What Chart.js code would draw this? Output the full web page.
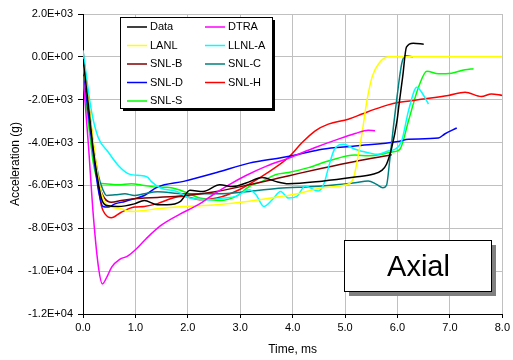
<!DOCTYPE html>
<html>
<head>
<meta charset="utf-8">
<script src="https://cdn.jsdelivr.net/npm/chart.js@4"></script>
<style>
  html, body { margin: 0; padding: 0; background: #fff; }
  #wrap { width: 513px; height: 360px; }
</style>
</head>
<body>
<div id="wrap"><canvas id="accelChart" width="513" height="360"></canvas></div>
<script>
// Axial acceleration vs time, one pair of arrays per series (time in ms, accel in g)
const seriesNames = ['Data', 'DTRA', 'LANL', 'LLNL-A', 'SNL-B', 'SNL-C', 'SNL-D', 'SNL-H', 'SNL-S'];
const seriesColors = ['#000000', '#ff00ff', '#ffff00', '#00ffff', '#800000', '#008080', '#0000ff', '#ff0000', '#00ff00'];

const dataT = [0, 0.1, 0.2, 0.26, 0.35, 0.45, 0.67, 0.98, 1.17, 1.42, 1.6, 1.86, 2.04, 2.29, 2.61, 2.86, 3.11, 3.42, 3.67, 3.92, 4.56, 5.19, 5.51, 5.7, 5.79, 5.89, 5.99, 6.03, 6.1, 6.17, 6.3, 6.5];
const dataG = [-100, -2200, -4400, -5400, -6600, -6940, -6980, -6860, -6700, -6900, -6900, -6740, -6230, -6280, -5970, -6050, -5890, -5630, -5810, -5920, -5800, -5610, -5490, -5300, -5010, -4230, -2990, -2200, -900, 450, 630, 590];

const dtraT = [0, 0.1, 0.2, 0.3, 0.37, 0.45, 0.55, 0.7, 0.85, 1.0, 1.2, 1.48, 1.85, 2.2, 2.5, 2.8, 3.1, 3.5, 3.92, 4.43, 4.87, 5.19, 5.44, 5.57];
const dtraG = [-900, -4000, -7500, -9900, -10600, -10300, -9800, -9450, -9300, -9000, -8500, -7880, -7340, -6900, -6400, -5950, -5550, -5100, -4730, -4230, -3840, -3580, -3420, -3450];

const lanlT = [0, 0.1, 0.2, 0.3, 0.4, 0.48, 0.73, 0.92, 1.17, 1.42, 1.92, 2.55, 3.17, 3.8, 4.11, 4.56, 5.0, 5.15, 5.25, 5.32, 5.42, 5.52, 5.64, 5.83, 6.2, 8.0];
const lanlG = [-300, -2000, -4000, -5800, -6700, -6940, -7090, -7220, -7170, -7090, -6980, -6900, -6740, -6510, -6380, -6110, -5980, -5720, -4600, -3610, -2000, -900, -320, 0, 0, 0];

const llnlT = [0, 0.16, 0.29, 0.48, 0.67, 0.86, 1.04, 1.23, 1.3, 1.48, 1.79, 2.04, 2.42, 2.67, 2.92, 3.17, 3.3, 3.45, 3.61, 3.77, 3.92, 4.08, 4.24, 4.49, 4.6, 4.69, 4.8, 4.97, 5.19, 5.44, 5.63, 5.82, 5.96, 6.08, 6.21, 6.37, 6.46, 6.59];
const llnlG = [300, -2510, -3760, -4440, -5060, -5450, -5530, -5610, -5810, -6120, -6280, -6590, -6670, -6590, -6510, -6200, -6430, -6980, -6670, -6280, -6590, -6510, -6030, -6260, -5900, -5100, -4300, -4080, -4310, -4470, -4550, -4390, -4300, -3920, -2510, -1420, -1650, -2200];

const snlBT = [0, 0.1, 0.2, 0.3, 0.42, 0.54, 0.73, 0.98, 1.17, 1.42, 1.92, 2.55, 3.17, 3.8, 4.1, 4.56, 5.19, 5.89];
const snlBG = [100, -2000, -4200, -5900, -6620, -6780, -6700, -6620, -6590, -6560, -6480, -6280, -5970, -5620, -5450, -5200, -4880, -4570];

const snlCT = [0, 0.1, 0.2, 0.3, 0.38, 0.45, 0.61, 0.8, 0.98, 1.17, 1.42, 1.92, 2.55, 3.17, 3.8, 4.11, 4.56, 5.19, 5.44, 5.6, 5.72, 5.79, 5.85, 5.92, 5.99, 6.08, 6.15, 6.3];
const snlCG = [-300, -2200, -4200, -5600, -6200, -6470, -6440, -6390, -6470, -6390, -6300, -6390, -6390, -6280, -6120, -6090, -6030, -5870, -5790, -5950, -6110, -6000, -4860, -3300, -1880, -320, 50, 0];

const snlDT = [0, 0.1, 0.2, 0.3, 0.38, 0.48, 0.61, 0.8, 0.98, 1.17, 1.42, 1.92, 2.55, 3.17, 3.8, 4.1, 4.56, 5.19, 6.01, 6.21, 6.78, 6.9, 7.13];
const snlDG = [-500, -2600, -4600, -6300, -6980, -7010, -6860, -6750, -6620, -6470, -6080, -5810, -5400, -4960, -4700, -4560, -4310, -4160, -3950, -3840, -3790, -3600, -3320];

const snlHT = [0, 0.1, 0.2, 0.3, 0.35, 0.42, 0.54, 0.73, 0.98, 1.17, 1.42, 1.7, 1.92, 2.23, 2.55, 2.98, 3.36, 3.74, 3.92, 4.18, 4.43, 4.68, 5.06, 5.32, 5.57, 5.82, 6.01, 6.53, 6.97, 7.29, 7.6, 7.79, 8.0];
const snlHG = [300, -2000, -4300, -6200, -6940, -7330, -7510, -7250, -7010, -6980, -6850, -6600, -6510, -6670, -6590, -6200, -5660, -5040, -4700, -4000, -3450, -3140, -2910, -2670, -2440, -2240, -2130, -1960, -1800, -1650, -1850, -1730, -1800];

const snlST = [0, 0.1, 0.2, 0.32, 0.42, 0.67, 0.92, 1.17, 1.42, 1.6, 1.92, 2.23, 2.61, 2.92, 3.17, 3.42, 3.67, 3.92, 4.3, 4.68, 5.19, 5.44, 5.7, 5.82, 5.95, 6.05, 6.21, 6.4, 6.56, 6.78, 7.03, 7.29, 7.45];
const snlSG = [-950, -3000, -5000, -5880, -5920, -5970, -5920, -6000, -6080, -6080, -6280, -6590, -6700, -6510, -6050, -5810, -5500, -5400, -5170, -4860, -4580, -4620, -4550, -4470, -4420, -4300, -2980, -1420, -670, -790, -760, -600, -550];

const seriesT = [dataT, dtraT, lanlT, llnlT, snlBT, snlCT, snlDT, snlHT, snlST];
const seriesG = [dataG, dtraG, lanlG, llnlG, snlBG, snlCG, snlDG, snlHG, snlSG];

const yTicks = [2000, 0, -2000, -4000, -6000, -8000, -10000, -12000];
const xTicks = [0, 1, 2, 3, 4, 5, 6, 7, 8];
const panelLabel = 'Axial';

function sciLabel(v) {
  // 2.0E+03 style, exponent padded to two digits
  const parts = Number(v).toExponential(1).split('e');
  const sign = parts[1][0] === '-' ? '-' : '+';
  const exp = parts[1].replace(/[+-]/, '').padStart(2, '0');
  return parts[0] + 'E' + sign + exp;
}

const datasets = seriesNames.map(function(name, i) {
  return {
    label: name,
    data: seriesT[i].map((t, j) => ({ x: t, y: seriesG[i][j] })),
    borderColor: seriesColors[i],
    backgroundColor: seriesColors[i],
    borderWidth: 1.5,
    pointRadius: 0,
    showLine: true,
    fill: false,
    cubicInterpolationMode: 'monotone'
  };
});

// legend box with shadow drawn inside the plot, plus the "Axial" label box
const boxesPlugin = {
  id: 'boxes',
  afterDraw(chart) {
    const ctx = chart.ctx;
    ctx.save();
    // legend
    const lx = 120, ly = 17, lw = 152, lh = 91;
    ctx.fillStyle = '#000';
    ctx.fillRect(lx + 3, ly + 3, lw, lh);
    ctx.fillStyle = '#fff';
    ctx.fillRect(lx, ly, lw, lh);
    ctx.strokeStyle = '#000';
    ctx.lineWidth = 1;
    ctx.strokeRect(lx + 0.5, ly + 0.5, lw, lh);
    ctx.font = '11px "Liberation Sans", Arial, sans-serif';
    ctx.textBaseline = 'middle';
    chart.data.datasets.forEach(function(ds, i) {
      const cx = i % 2 === 0 ? 127 : 205;
      const cy = 27 + Math.floor(i / 2) * 18.5;
      ctx.strokeStyle = ds.borderColor;
      ctx.lineWidth = 1.5;
      ctx.beginPath();
      ctx.moveTo(cx, cy);
      ctx.lineTo(cx + 20, cy);
      ctx.stroke();
      ctx.fillStyle = '#000';
      ctx.fillText(ds.label, cx + 23, cy);
    });
    // Axial box
    const ax = 344, ay = 240, aw = 147, ah = 51;
    ctx.fillStyle = '#808080';
    ctx.fillRect(ax + 5, ay + 5, aw, ah);
    ctx.fillStyle = '#fff';
    ctx.fillRect(ax, ay, aw, ah);
    ctx.strokeStyle = '#000';
    ctx.lineWidth = 1;
    ctx.strokeRect(ax + 0.5, ay + 0.5, aw, ah);
    ctx.fillStyle = '#000';
    ctx.font = '29px "Liberation Sans", Arial, sans-serif';
    ctx.textAlign = 'center';
    ctx.fillText(panelLabel, ax + aw / 2 + 1, ay + ah / 2 + 2);
    ctx.restore();
  }
};

const ctx = document.getElementById('accelChart').getContext('2d');
new Chart(ctx, {
  type: 'scatter',
  data: { datasets: datasets },
  options: {
    responsive: false,
    animation: false,
    layout: { padding: { top: 14, right: 7, left: 0, bottom: 0 } },
    plugins: {
      legend: { display: false },
      tooltip: { enabled: false }
    },
    scales: {
      x: {
        type: 'linear',
        min: 0,
        max: 8,
        afterBuildTicks: function(axis) { axis.ticks = xTicks.map(v => ({ value: v })); },
        afterFit: function(axis) { axis.height = 46; },
        ticks: {
          font: { family: '"Liberation Sans", Arial, sans-serif', size: 11 },
          color: '#000',
          padding: 3,
          maxRotation: 0,
          callback: v => Number(v).toFixed(1)
        },
        grid: { color: '#c0c0c0', lineWidth: 1, tickColor: '#000', tickLength: 4 },
        border: { color: '#000', width: 1 },
        title: {
          display: true,
          text: 'Time, ms',
          color: '#000',
          font: { family: '"Liberation Sans", Arial, sans-serif', size: 12 },
          padding: { top: 2, bottom: 3 }
        }
      },
      y: {
        min: -12000,
        max: 2000,
        afterBuildTicks: function(axis) { axis.ticks = yTicks.map(v => ({ value: v })); },
        afterFit: function(axis) { axis.width = 83; },
        ticks: {
          font: { family: '"Liberation Sans", Arial, sans-serif', size: 11 },
          color: '#000',
          padding: 5,
          callback: v => sciLabel(v)
        },
        grid: { color: '#c0c0c0', lineWidth: 1, tickColor: '#000', tickLength: 5 },
        border: { color: '#000', width: 1 },
        title: {
          display: true,
          text: 'Acceleration (g)',
          color: '#000',
          font: { family: '"Liberation Sans", Arial, sans-serif', size: 12 },
          padding: { top: 8, bottom: 0 }
        }
      }
    }
  },
  plugins: [boxesPlugin]
});
</script>
</body>
</html>
